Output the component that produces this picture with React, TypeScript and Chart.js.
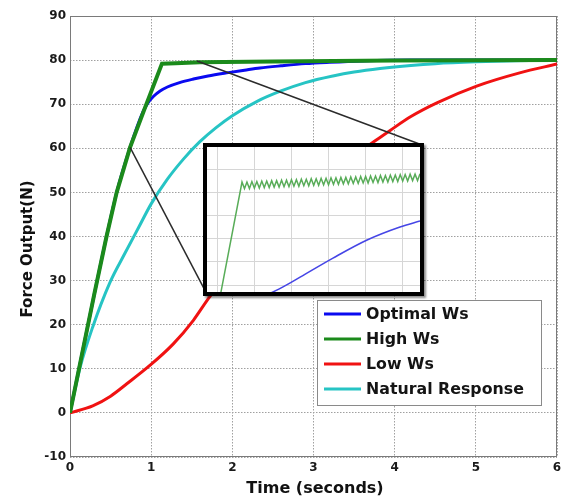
import React, { useEffect, useRef } from "react";
import { Chart, registerables } from "chart.js";

Chart.register(...registerables);

// ---- main chart data ----
const xTickValues = [0, 1, 2, 3, 4, 5, 6];
const yTickValues = [-10, 0, 10, 20, 30, 40, 50, 60, 70, 80, 90];

const optimalT = [0, 0.3, 0.575, 0.74, 0.9, 0.96, 1.03, 1.11, 1.2, 1.35, 1.52, 1.7, 1.93, 2.15, 2.34, 2.6, 2.9, 3.2, 3.6, 4.2, 6];
const optimalF = [0, 27, 50, 60.2, 68.3, 70.3, 71.8, 73.0, 73.9, 74.9, 75.7, 76.4, 77.1, 77.7, 78.2, 78.7, 79.2, 79.5, 79.8, 80, 80];

const highT = [0, 0.15, 0.3, 0.45, 0.575, 0.74, 0.92, 1.133, 1.3, 1.6, 2.5, 4, 6];
const highF = [0, 13.5, 27, 40, 50, 60.2, 69, 79.2, 79.3, 79.5, 79.7, 79.9, 80];

const lowT = [0, 0.28, 0.5, 0.7, 0.98, 1.27, 1.52, 1.7, 2.0, 2.5, 3.0, 3.5, 3.76, 3.94, 4.2, 4.52, 5.01, 5.54, 6];
const lowF = [0, 1.6, 3.8, 6.6, 10.7, 15.6, 21.0, 25.8, 33, 43.5, 51.8, 58.3, 61.7, 64, 67.2, 70.3, 74.1, 77.1, 79.1];

const naturalT = [0, 0.12, 0.28, 0.49, 0.68, 0.85, 1.0, 1.2, 1.4, 1.6, 1.8, 2.0, 2.3, 2.6, 2.9, 3.24, 3.5, 3.82, 4.2, 4.5, 5.0, 5.5, 6];
const naturalF = [0, 10, 19.5, 29.5, 36.3, 42.2, 47.4, 53, 57.6, 61.5, 64.7, 67.4, 70.6, 73.0, 74.9, 76.4, 77.3, 78.1, 78.8, 79.2, 79.6, 79.85, 80];

// zoom connector lines (main-chart coordinates)
const connectorAT = [0.74, 1.7];
const connectorAF = [60.2, 26.5];
const connectorBT = [1.565, 4.33];
const connectorBF = [79.8, 60.8];

const seriesLabels = ["Optimal Ws", "High Ws", "Low Ws", "Natural Response"];
const seriesColors = ["#0a0af0", "#1b8a1b", "#f01212", "#26c4c4"];

// ---- inset (magnified) data ----
const insetXTicks = [-10, 5, 20, 35, 50, 65];
const insetYTicks = [77, 77.5, 78, 78.5, 79, 79.5];
const insetRampK = [-9.3, 0];
const insetRampF = [76.63, 79.22];
const insetRipple = [
  79.22, 79.08, 79.22, 79.08, 79.23, 79.09, 79.23, 79.09, 79.24, 79.10,
  79.24, 79.10, 79.25, 79.11, 79.25, 79.11, 79.26, 79.12, 79.26, 79.12,
  79.27, 79.13, 79.27, 79.13, 79.28, 79.14, 79.28, 79.14, 79.29, 79.15,
  79.29, 79.15, 79.30, 79.16, 79.30, 79.16, 79.31, 79.17, 79.31, 79.17,
  79.32, 79.18, 79.32, 79.18, 79.33, 79.19, 79.33, 79.19, 79.34, 79.20,
  79.34, 79.20, 79.35, 79.21, 79.35, 79.21, 79.36, 79.22, 79.36, 79.22,
  79.37, 79.23, 79.37, 79.23, 79.38, 79.24, 79.38, 79.24, 79.39, 79.25,
  79.39, 79.25, 79.40,
];
const insetBlueK = [10.5, 16.6, 23.5, 36.8, 50.6, 63.9, 72];
const insetBlueF = [76.8, 76.96, 77.17, 77.58, 77.97, 78.25, 78.38];

const pts = (t: number[], f: number[]) => t.map((x, i) => ({ x, y: f[i] }));

const FONT = "DejaVu Sans";

const decorPlugin = {
  id: "decor",
  beforeDatasetsDraw(chart: any) {
    const { ctx, chartArea: a } = chart;
    ctx.save();
    ctx.strokeStyle = "#7a7a7a";
    ctx.lineWidth = 1;
    ctx.strokeRect(Math.round(a.left) + 0.5, Math.round(a.top) + 0.5, Math.round(a.right - a.left) - 1, Math.round(a.bottom - a.top) - 1);
    ctx.restore();
  },
  afterDraw(chart: any) {
    const { ctx } = chart;
    ctx.save();
    // axis titles
    ctx.fillStyle = "#111";
    ctx.font = `bold 16px ${FONT}`;
    ctx.textAlign = "center";
    ctx.textBaseline = "middle";
    ctx.fillText("Time (seconds)", 315, 489);
    ctx.save();
    ctx.translate(28, 249);
    ctx.rotate(-Math.PI / 2);
    ctx.font = `bold 15px ${FONT}`;
    ctx.fillText("Force Output(N)", 0, 0);
    ctx.restore();

    // legend
    const bx = 317, by = 300, bw = 224, bh = 105;
    ctx.fillStyle = "#ffffff";
    ctx.fillRect(bx, by, bw, bh);
    ctx.strokeStyle = "#8a8a8a";
    ctx.lineWidth = 1;
    ctx.strokeRect(bx + 0.5, by + 0.5, bw, bh);
    const items = chart.data.datasets.filter((d: any) => seriesLabels.includes(d.label));
    items.sort((p: any, q: any) => seriesLabels.indexOf(p.label) - seriesLabels.indexOf(q.label));
    ctx.font = `bold 15.8px ${FONT}`;
    ctx.textAlign = "left";
    items.forEach((d: any, i: number) => {
      const y = 314 + i * 25;
      ctx.strokeStyle = d.borderColor;
      ctx.lineWidth = 3;
      ctx.beginPath();
      ctx.moveTo(324, y);
      ctx.lineTo(361, y);
      ctx.stroke();
      ctx.fillStyle = "#141414";
      ctx.fillText(d.label, 366, y + 1);
    });
    ctx.restore();
  },
};

function MainChart() {
  const ref = useRef<HTMLCanvasElement>(null);
  useEffect(() => {
    const tickFont = { family: FONT, weight: "bold" as const, size: 12 };
    const chart = new Chart(ref.current as HTMLCanvasElement, {
      type: "line",
      data: {
        datasets: [
          { label: seriesLabels[0], data: pts(optimalT, optimalF), borderColor: seriesColors[0], borderWidth: 3, cubicInterpolationMode: "monotone", order: 4 },
          { label: seriesLabels[1], data: pts(highT, highF), borderColor: seriesColors[1], borderWidth: 4, tension: 0, order: 1 },
          { label: seriesLabels[2], data: pts(lowT, lowF), borderColor: seriesColors[2], borderWidth: 3, cubicInterpolationMode: "monotone", order: 2 },
          { label: seriesLabels[3], data: pts(naturalT, naturalF), borderColor: seriesColors[3], borderWidth: 3, cubicInterpolationMode: "monotone", order: 3 },
          { label: "_connA", data: pts(connectorAT, connectorAF), borderColor: "#2b2b2b", borderWidth: 1.5, tension: 0, order: 0 },
          { label: "_connB", data: pts(connectorBT, connectorBF), borderColor: "#2b2b2b", borderWidth: 1.5, tension: 0, order: 0 },
        ] as any,
      },
      options: {
        animation: false,
        responsive: false,
        maintainAspectRatio: false,
        layout: { padding: { top: 16, right: 0, left: 0, bottom: 0 } },
        elements: { point: { radius: 0 } },
        plugins: { legend: { display: false }, tooltip: { enabled: false } },
        scales: {
          x: {
            type: "linear",
            min: 0,
            max: 6,
            afterBuildTicks: (s: any) => { s.ticks = xTickValues.map((v) => ({ value: v })); },
            afterFit: (s: any) => { s.height = 41; s.paddingRight = 5; s.paddingLeft = 0; },
            ticks: { font: tickFont, color: "#1a1a1a", padding: 4, maxRotation: 0, autoSkip: false },
            grid: { color: "#a0a0a0", lineWidth: 1, drawTicks: false },
            border: { display: false, dash: [1.5, 1.5] },
          },
          y: {
            type: "linear",
            min: -10,
            max: 90,
            afterBuildTicks: (s: any) => { s.ticks = yTickValues.map((v) => ({ value: v })); },
            afterFit: (s: any) => { s.width = 70; s.paddingTop = 0; s.paddingBottom = 0; },
            ticks: { font: tickFont, color: "#1a1a1a", padding: 4, autoSkip: false },
            grid: { color: "#a0a0a0", lineWidth: 1, drawTicks: false },
            border: { display: false, dash: [1.5, 1.5] },
          },
        },
      } as any,
      plugins: [decorPlugin],
    });
    return () => chart.destroy();
  }, []);
  return <canvas ref={ref} width={562} height={498} style={{ position: "absolute", left: 0, top: 0 }} />;
}

function InsetChart() {
  const ref = useRef<HTMLCanvasElement>(null);
  useEffect(() => {
    const greenPts = [...pts(insetRampK, insetRampF), ...insetRipple.map((y, k) => ({ x: k, y }))];
    const chart = new Chart(ref.current as HTMLCanvasElement, {
      type: "line",
      data: {
        datasets: [
          { label: "ripple", data: greenPts, borderColor: "#58ac58", borderWidth: 1.5, tension: 0 },
          { label: "optimal", data: pts(insetBlueK, insetBlueF), borderColor: "#4646e6", borderWidth: 1.6, cubicInterpolationMode: "monotone" },
        ] as any,
      },
      options: {
        animation: false,
        responsive: false,
        maintainAspectRatio: false,
        layout: { padding: 0 },
        elements: { point: { radius: 0 } },
        plugins: { legend: { display: false }, tooltip: { enabled: false } },
        scales: {
          x: {
            type: "linear",
            min: -14.16,
            max: 72,
            afterBuildTicks: (s: any) => { s.ticks = insetXTicks.map((v) => ({ value: v })); },
            ticks: { display: false },
            grid: { color: "#d6d6d6", lineWidth: 1, drawTicks: false },
            border: { display: false },
          },
          y: {
            type: "linear",
            min: 76.85,
            max: 79.975,
            afterBuildTicks: (s: any) => { s.ticks = insetYTicks.map((v) => ({ value: v })); },
            ticks: { display: false },
            grid: { color: "#d6d6d6", lineWidth: 1, drawTicks: false },
            border: { display: false },
          },
        },
      } as any,
    });
    return () => chart.destroy();
  }, []);
  return (
    <div
      style={{
        position: "absolute",
        left: 203,
        top: 143,
        width: 213,
        height: 145,
        border: "4px solid #000",
        background: "#fff",
        boxShadow: "2px 2px 2px rgba(0,0,0,0.45)",
      }}
    >
      <canvas ref={ref} width={213} height={145} style={{ display: "block" }} />
    </div>
  );
}

export default function App() {
  return (
    <div style={{ position: "absolute", left: 0, top: 0, width: 562, height: 498, background: "#fff" }}>
      <MainChart />
      <InsetChart />
    </div>
  );
}
